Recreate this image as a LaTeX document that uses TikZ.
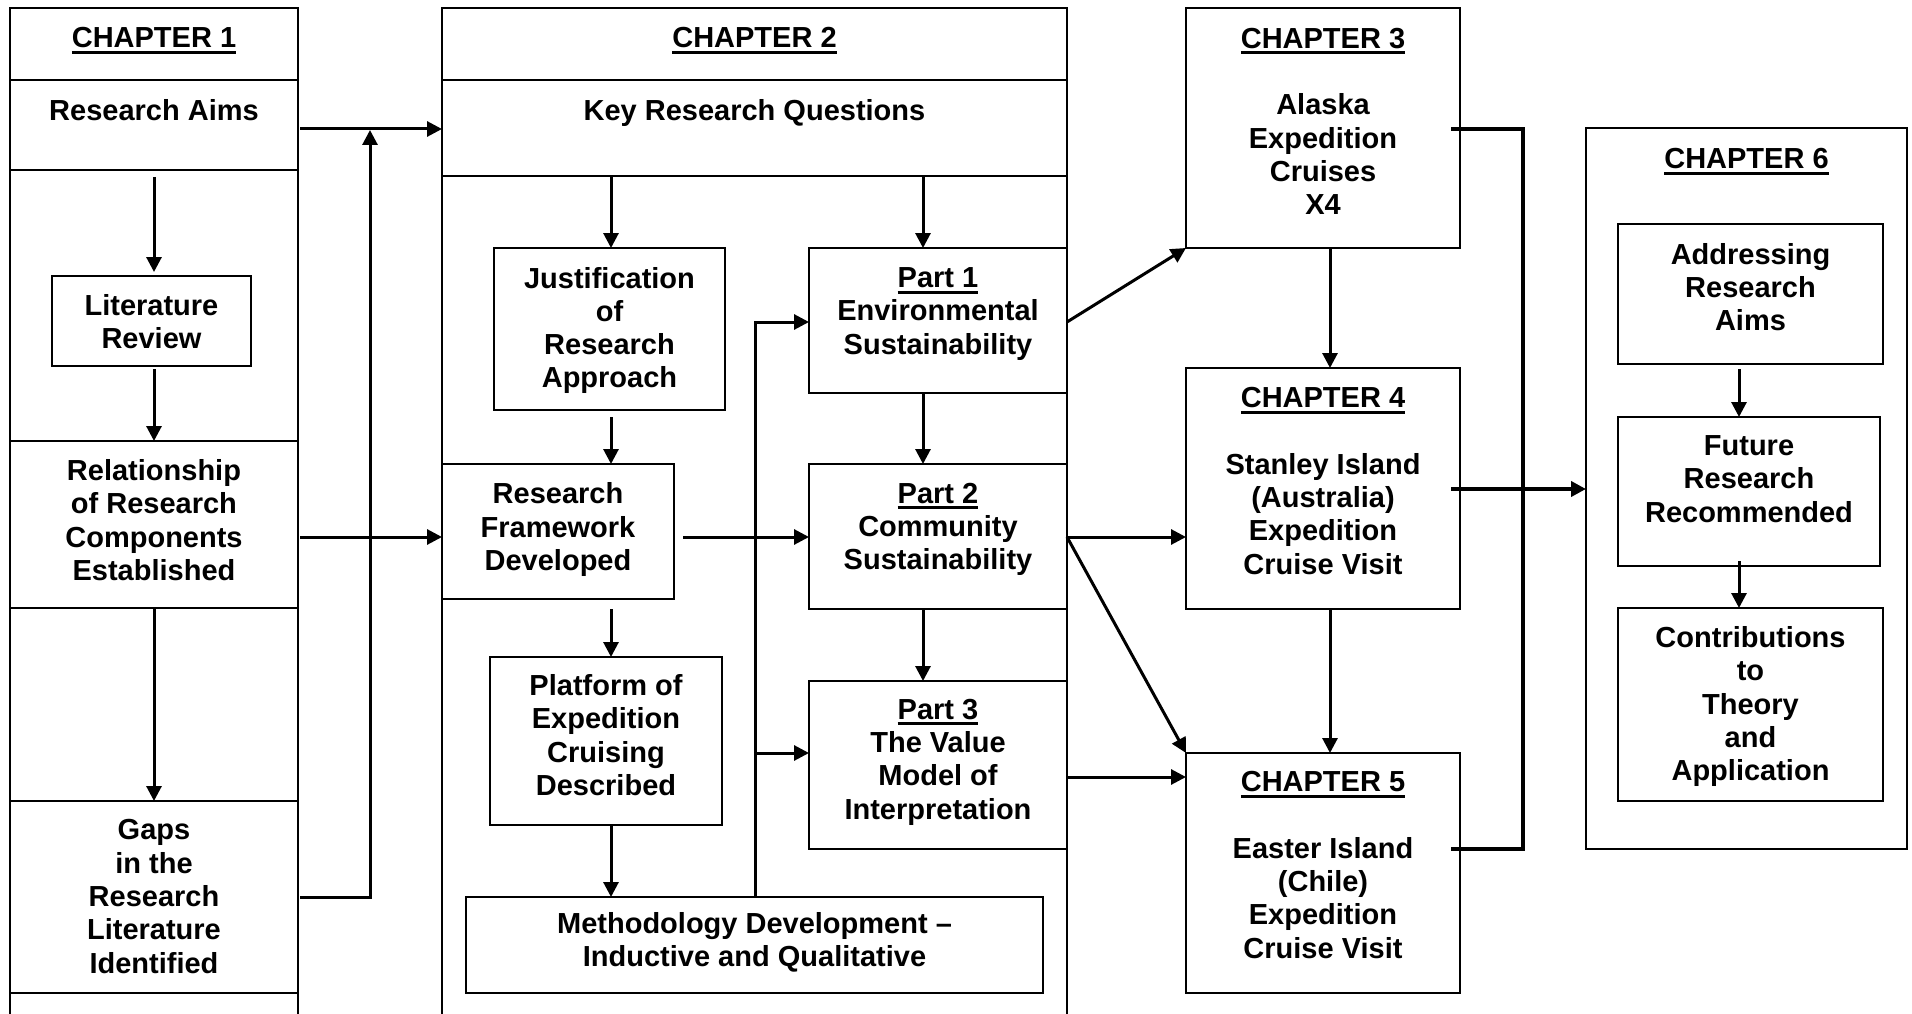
\documentclass[tikz,border=0pt]{standalone}
\usepackage{fontspec}
\setmainfont{Liberation Sans}
\usetikzlibrary{arrows.meta,calc}

% underlined heading whose rule does not change the text box
\newcommand\headul[1]{\setbox0\hbox{#1}\rlap{\smash{\rule[-6pt]{\wd0}{3pt}}}\box0}

\tikzset{
  frame/.style={draw, line width=1.8pt, inner sep=0pt, outer sep=0pt},
  txt/.style={align=center, inner sep=0pt, font=\fontsize{29pt}{33.3pt}\selectfont\bfseries},
  arr/.style={line width=3pt, -{Triangle[width=15pt,length=15pt]}},
  bar/.style={line width=4pt},
  colside/.style={line width=1.8pt}
}

\begin{document}
\begin{tikzpicture}[x=1pt, y=-1pt]
\useasboundingbox[fill=white] (0,0) rectangle (1912,1014);

% ---------- guide coordinates ----------
\coordinate (bottom) at (0,1014);
\coordinate (c1x) at (154,0);
\coordinate (c2a) at (611,0);
\coordinate (c2b) at (923,0);
\coordinate (c3x) at (1330,0);
\coordinate (c6x) at (1739,0);
\coordinate (vx) at (370,0);
\coordinate (mx) at (755,0);
\coordinate (bx) at (1523,0);
\coordinate (ya) at (0,129);
\coordinate (yb) at (0,537);
\coordinate (yc) at (0,777);
\coordinate (yd) at (0,849);
\coordinate (ye) at (0,489);
\coordinate (yp1) at (0,322);
\coordinate (yp3) at (0,753);

% ---------- Chapter 1 column ----------
\node[frame, minimum width=288, minimum height=72]  (ch1head) at (154,44) {};
\node[frame, minimum width=288, minimum height=90]  (ra)   at (154,125) {};
\node[frame, minimum width=199, minimum height=90]  (lit)  at (151.5,321) {};
\node[frame, minimum width=288, minimum height=167] (rel)  at (154,524.5) {};
\node[frame, minimum width=288, minimum height=192] (gaps) at (154,897) {};
\draw[colside] (ra.south west) -- (rel.north west) (ra.south east) -- (rel.north east);
\draw[colside] (rel.south west) -- (gaps.north west) (rel.south east) -- (gaps.north east);
\draw[colside] (gaps.south west) -- (gaps.south west |- bottom) (gaps.south east) -- (gaps.south east |- bottom);

\node[txt] (tch1)  at (154,38)    {\headul{CHAPTER 1}};
\node[txt] (tra)   at (154,110)   {Research Aims};
\node[txt] (tlit)  at (151.5,321.5) {Literature\\Review};
\node[txt] (trel)  at (154,520)   {Relationship\\of Research\\Components\\Established};
\node[txt] (tgaps) at (154,896.5) {Gaps\\in the\\Research\\Literature\\Identified};

% ---------- Chapter 2 column ----------
\node[frame, minimum width=625, minimum height=72] (ch2head) at (754.5,44) {};
\node[frame, minimum width=625, minimum height=96] (krq)     at (754.5,128) {};
\node[frame, minimum width=231, minimum height=162] (just)  at (609.5,329) {};
\node[frame, minimum width=258, minimum height=145] (part1) at (938,320.5) {};
\node[frame, minimum width=232, minimum height=135] (fw)    at (558,531.5) {};
\node[frame, minimum width=258, minimum height=145] (part2) at (938,536.5) {};
\node[frame, minimum width=232, minimum height=168] (plat)  at (606,741) {};
\node[frame, minimum width=258, minimum height=168] (part3) at (938,765) {};
\node[frame, minimum width=577, minimum height=96]  (meth)  at (754.5,945) {};
\draw[colside] (krq.south west) -- (krq.south west |- bottom) (krq.south east) -- (krq.south east |- bottom);

\node[txt] (tch2)   at (754.5,38)  {\headul{CHAPTER 2}};
\node[txt] (tkrq)   at (754.5,113) {Key Research Questions};
\node[txt] (tjust)  at (609.5,330.5) {Justification\\of\\Research\\Approach};
\node[txt] (tpart1) at (938,314)   {\headul{Part 1}\\Environmental\\Sustainability};
\node[txt] (tfw)    at (558,529.5) {Research\\Framework\\Developed};
\node[txt] (tpart2) at (938,529.5) {\headul{Part 2}\\Community\\Sustainability};
\node[txt] (tplat)  at (606,735)   {Platform of\\Expedition\\Cruising\\Described};
\node[txt] (tpart3) at (938,762)   {\headul{Part 3}\\The Value\\Model of\\Interpretation};
\node[txt] (tmeth)  at (754.5,942.5) {Methodology Development –\\Inductive and Qualitative};

% ---------- Chapters 3 to 5 ----------
\node[frame, minimum width=274, minimum height=240] (ch3) at (1323,128) {};
\node[frame, minimum width=274, minimum height=241] (ch4) at (1323,488.5) {};
\node[frame, minimum width=274, minimum height=240] (ch5) at (1323,873) {};
\node[txt] (tch3) at (1323,121.5) {\headul{CHAPTER 3}\\[33.3pt]Alaska\\Expedition\\Cruises\\X4};
\node[txt] (tch4) at (1323,481)   {\headul{CHAPTER 4}\\[33.3pt]Stanley Island\\(Australia)\\Expedition\\Cruise Visit};
\node[txt] (tch5) at (1323,865)   {\headul{CHAPTER 5}\\[33.3pt]Easter Island\\(Chile)\\Expedition\\Cruise Visit};

% ---------- Chapter 6 ----------
\node[frame, minimum width=321, minimum height=721] (ch6)   at (1746.5,488.5) {};
\node[frame, minimum width=265, minimum height=140] (addr)  at (1750.5,294) {};
\node[frame, minimum width=262, minimum height=149] (fut)   at (1749,491.5) {};
\node[frame, minimum width=265, minimum height=193] (contr) at (1750.5,704.5) {};
\node[txt] (tch6)   at (1746.5,159) {\headul{CHAPTER 6}};
\node[txt] (taddr)  at (1750.5,287) {Addressing\\Research\\Aims};
\node[txt] (tfut)   at (1749,479)   {Future\\Research\\Recommended};
\node[txt] (tcontr) at (1750.5,706.5) {Contributions\\to\\Theory\\and\\Application};

% ---------- connectors: chapter 1 ----------
\draw[arr] ($(ra.south -| c1x)+(0,7)$) -- ($(lit.north -| c1x)+(0,-4)$);
\draw[arr] ($(lit.south -| c1x)+(0,3)$) -- (rel.north -| c1x);
\draw[arr] (rel.south -| c1x) -- (gaps.north -| c1x);
\draw[arr] ($(ra.east |- ya)+(2,0)$) -- (krq.west |- ya);
\draw[arr] ($(gaps.east)+(2,0)$) -- (gaps.east -| vx) -- ($(vx |- ya)+(0,1)$);
\draw[arr] ($(rel.east |- yb)+(2,0)$) -- (fw.west |- yb);

% ---------- connectors: chapter 2 ----------
\draw[arr] ($(krq.south -| c2a)+(0,1)$) -- (just.north -| c2a);
\draw[arr] ($(krq.south -| c2b)+(0,1)$) -- (part1.north -| c2b);
\draw[arr] ($(just.south -| c2a)+(0,7)$) -- (fw.north -| c2a);
\draw[arr] ($(fw.south -| c2a)+(0,10)$) -- (plat.north -| c2a);
\draw[arr] (plat.south -| c2a) -- (meth.north -| c2a);
\draw[arr] (part1.south -| c2b) -- (part2.north -| c2b);
\draw[arr] (part2.south -| c2b) -- (part3.north -| c2b);
\draw[arr] ($(fw.east |- yb)+(9,0)$) -- (part2.west |- yb);
\draw[arr] (meth.north -| mx) -- (mx |- yp1) -- (part1.west |- yp1);
\draw[arr] (mx |- yp3) -- (part3.west |- yp3);

% ---------- connectors: into chapters 3 to 5 ----------
\draw[arr] (part1.east |- yp1) -- (ch3.south west);
\draw[arr] (part2.east |- yb) -- (ch4.west |- yb);
\draw[arr] (part2.east |- yb) -- (ch5.north west);
\draw[arr] (part3.east |- yc) -- (ch5.west |- yc);
\draw[arr] (ch3.south -| c3x) -- (ch4.north -| c3x);
\draw[arr] (ch4.south -| c3x) -- (ch5.north -| c3x);

% ---------- bracket into chapter 6 ----------
\draw[bar] ($(ch3.east |- ya)+(-9,0)$) -- (bx |- ya) -- (bx |- yd) -- ($(ch5.east |- yd)+(-9,0)$);
\draw[arr, line width=4pt] ($(ch4.east |- ye)+(-9,0)$) -- (ch6.west |- ye);

% ---------- connectors: chapter 6 ----------
\draw[arr] ($(addr.south -| c6x)+(0,5)$) -- (fut.north -| c6x);
\draw[arr] ($(fut.south -| c6x)+(0,-5)$) -- (contr.north -| c6x);
\end{tikzpicture}
\end{document}
